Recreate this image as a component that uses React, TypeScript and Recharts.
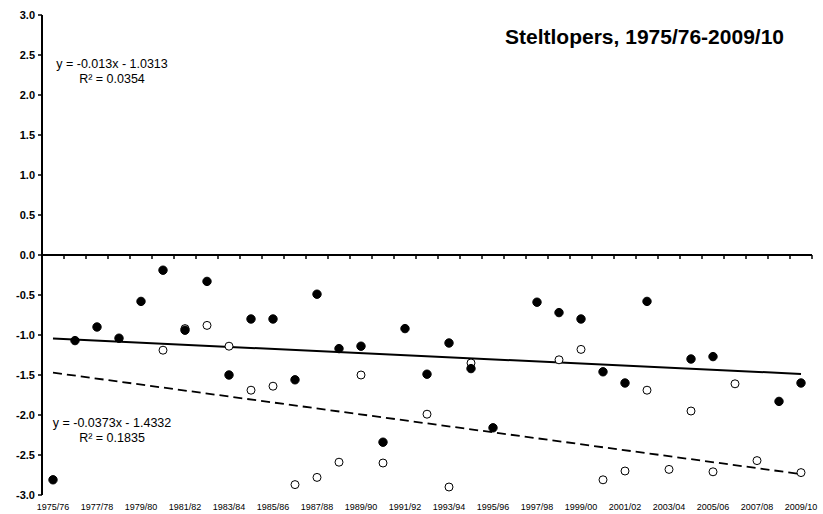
import { ComposedChart, Line, XAxis, YAxis, ReferenceLine } from "recharts";

const seasons = [
  "1975/76", "1976/77", "1977/78", "1978/79", "1979/80", "1980/81", "1981/82",
  "1982/83", "1983/84", "1984/85", "1985/86", "1986/87", "1987/88", "1988/89",
  "1989/90", "1990/91", "1991/92", "1992/93", "1993/94", "1994/95", "1995/96",
  "1996/97", "1997/98", "1998/99", "1999/00", "2000/01", "2001/02", "2002/03",
  "2003/04", "2004/05", "2005/06", "2006/07", "2007/08", "2008/09", "2009/10",
];

// filled markers
const filledValues = [
  -2.81, -1.07, -0.9, -1.04, -0.58, -0.19, -0.94, -0.33, -1.5, -0.8, -0.8,
  -1.56, -0.49, -1.17, -1.14, -2.34, -0.92, -1.49, -1.1, -1.42, -2.16, null,
  -0.59, -0.72, -0.8, -1.46, -1.6, -0.58, null, -1.3, -1.27, null, null, -1.83,
  -1.6,
];

// open markers
const openValues = [
  null, null, null, null, null, -1.19, -0.92, -0.88, -1.14, -1.69, -1.64,
  -2.87, -2.78, -2.59, -1.5, -2.6, null, -1.99, -2.9, -1.35, null, null, null,
  -1.31, -1.18, -2.81, -2.7, -1.69, -2.68, -1.95, -2.71, -1.61, -2.57, null,
  -2.72,
];

const yTicks = [-3, -2.5, -2, -1.5, -1, -0.5, 0, 0.5, 1, 1.5, 2, 2.5, 3];

// trendlines as given in the chart
const filledFit = { slope: -0.013, intercept: -1.0313, r2: "0.0354" };
const openFit = { slope: -0.0373, intercept: -1.4332, r2: "0.1835" };

const data = seasons.map((season, i) => ({
  season,
  filled: filledValues[i],
  open: openValues[i],
}));

const fitSegment = (fit: { slope: number; intercept: number }) => [
  { x: seasons[0], y: fit.slope * 1 + fit.intercept },
  { x: seasons[seasons.length - 1], y: fit.slope * seasons.length + fit.intercept },
];

const font = "Arial, 'Liberation Sans', sans-serif";

function ZeroAxis(props: any) {
  const { x1, y1, x2 } = props;
  if (x1 == null || y1 == null) return null;
  const n = seasons.length;
  const step = (x2 - x1) / n;
  const marks = [];
  for (let k = 1; k <= n; k++) {
    const x = x1 + k * step;
    marks.push(<line key={k} x1={x} x2={x} y1={y1} y2={y1 + 4} stroke="#000" strokeWidth={1.5} />);
  }
  return (
    <g>
      <line x1={x1} y1={y1} x2={x2} y2={y1} stroke="#000" strokeWidth={2} />
      {marks}
    </g>
  );
}

function Equation({ x, y, eq, r2 }: { x: number; y: number; eq: string; r2: string }) {
  return (
    <div
      style={{
        position: "absolute",
        left: x,
        top: y,
        transform: "translateX(-50%)",
        fontFamily: font,
        fontSize: 12.5,
        lineHeight: "15px",
        textAlign: "center",
        whiteSpace: "nowrap",
        color: "#000",
      }}
    >
      <div>{eq}</div>
      <div>R² = {r2}</div>
    </div>
  );
}

export default function App() {
  return (
    <div style={{ position: "absolute", left: 0, top: 0, width: 823, height: 514, background: "#fff" }}>
      <ComposedChart
        width={823}
        height={514}
        data={data}
        margin={{ top: 15, right: 11, left: 0, bottom: 0 }}
        style={{ fontFamily: font }}
      >
        <XAxis
          dataKey="season"
          scale="band"
          interval={1}
          axisLine={false}
          tickLine={false}
          tickSize={0}
          tickMargin={9}
          height={19}
          tick={{ fontSize: 9, fill: "#000" }}
        />
        <YAxis
          domain={[-3, 3]}
          ticks={yTicks}
          width={42}
          tickSize={4}
          tickMargin={3}
          allowDataOverflow
          axisLine={{ stroke: "#000", strokeWidth: 2 }}
          tickLine={{ stroke: "#000", strokeWidth: 1.5 }}
          tickFormatter={(v: number) => v.toFixed(1)}
          tick={{ fontSize: 11, fontWeight: "bold", fill: "#000" }}
        />
        <ReferenceLine y={0} shape={<ZeroAxis />} />
        <ReferenceLine segment={fitSegment(filledFit)} stroke="#000" strokeWidth={2} />
        <ReferenceLine segment={fitSegment(openFit)} stroke="#000" strokeWidth={1.8} strokeDasharray="9 5" />
        <Line
          dataKey="open"
          stroke="none"
          isAnimationActive={false}
          activeDot={false}
          dot={{ r: 4, fill: "#fff", stroke: "#000", strokeWidth: 1 }}
        />
        <Line
          dataKey="filled"
          stroke="none"
          isAnimationActive={false}
          activeDot={false}
          dot={{ r: 4.2, fill: "#000", stroke: "#000", strokeWidth: 1 }}
        />
      </ComposedChart>
      <div
        style={{
          position: "absolute",
          left: 505,
          top: 25,
          fontFamily: font,
          fontSize: 21,
          fontWeight: "bold",
          whiteSpace: "nowrap",
          color: "#000",
        }}
      >
        Steltlopers, 1975/76-2009/10
      </div>
      <Equation x={112} y={57} eq="y = -0.013x - 1.0313" r2={filledFit.r2} />
      <Equation x={112} y={416} eq="y = -0.0373x - 1.4332" r2={openFit.r2} />
    </div>
  );
}
